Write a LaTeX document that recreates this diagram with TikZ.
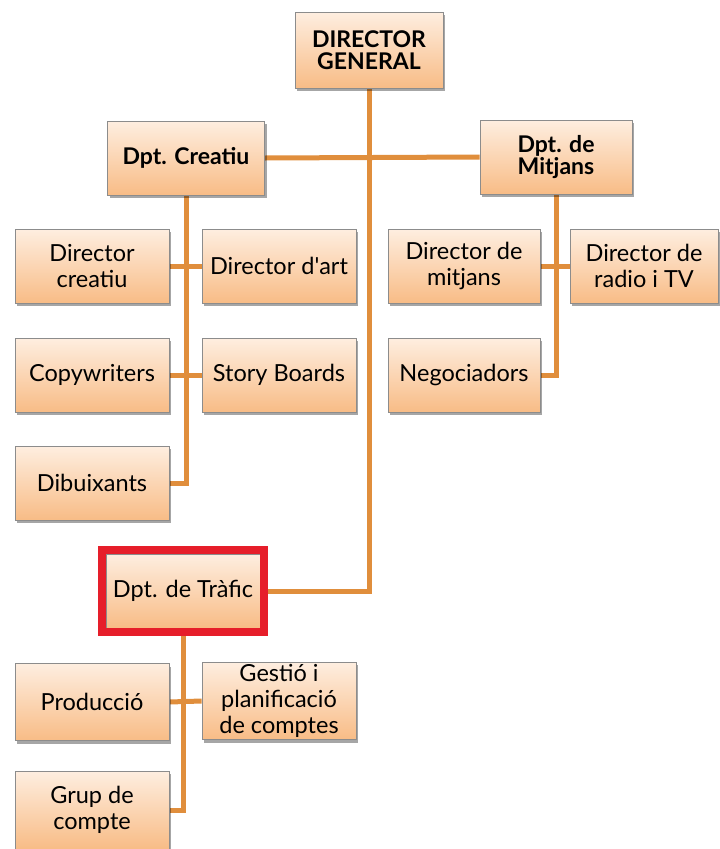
\documentclass[tikz,border=0pt]{standalone}
\usepackage{fontspec}
\setmainfont{Lato}
\usetikzlibrary{shadows,backgrounds,fit}
\definecolor{orgline}{HTML}{E08E3C}
\definecolor{boxtop}{HTML}{FEEEE0}
\definecolor{boxbot}{HTML}{F8BC86}
\definecolor{hlred}{HTML}{E61E2A}
\tikzset{
  orgbox/.style={draw=black!45, line width=0.8pt, top color=boxtop, bottom color=boxbot,
    minimum width=154pt, minimum height=74pt, inner sep=2pt, align=center,
    font=\fontsize{23.5}{26}\selectfont,
    drop shadow={shadow xshift=2pt, shadow yshift=-3pt, opacity=0.35, fill=black}},
  headbox/.style={orgbox, font=\fontsize{23}{22}\selectfont\bfseries},
  wire/.style={draw=orgline, line width=5pt},
  highlight/.style={draw=hlred, line width=8pt, inner sep=4pt}
}
\begin{document}
\begin{tikzpicture}[x=1pt,y=-1pt]
  \useasboundingbox (0,0) rectangle (720,849);
  \begin{scope}
    \clip (0,0) rectangle (720,849);
    % top level
    \node[headbox, minimum width=148pt, minimum height=76pt] (dg) at (369,50) {DIRECTOR\\GENERAL};
    \node[headbox, minimum width=157pt] (cr) at (186,158) {Dpt. Creatiu};
    \node[headbox, minimum width=152pt] (mj) at (556,157) {Dpt. de\\Mitjans};
    % creative department
    \node[orgbox] (dc) at (92,266) {Director\\creatiu};
    \node[orgbox] (da) at (279,266) {Director d\textquotesingle art};
    \node[orgbox] (cw) at (92,375) {Copywriters};
    \node[orgbox] (sb) at (279,375) {Story Boards};
    \node[orgbox] (dib) at (92,483) {Dibuixants};
    % media department
    \node[orgbox, minimum width=152pt] (dm) at (464,266) {Director de\\mitjans};
    \node[orgbox, minimum width=148pt] (drt) at (644,266) {Director de\\radio i TV};
    \node[orgbox, minimum width=152pt] (neg) at (464,375) {Negociadors};
    % traffic department
    \node[orgbox] (tr) at (183,591) {Dpt. de Tràfic};
    \node[orgbox, minimum height=77pt] (pr) at (92,702) {Producció};
    \node[orgbox, minimum height=77pt] (gp) at (279,701) {Gestió i\\planificació\\de comptes};
    \node[orgbox, minimum height=78pt] (gc) at (92,810) {Grup de\\compte};
    % connectors
    \begin{scope}[on background layer]
      \draw[wire] (dg.south) -- (dg.south |- tr.east) -- (tr.east);
      \draw[wire] (cr.east) -- (mj.west);
      \draw[wire] (cr.south) -- (cr.south |- dib.east) -- (dib.east);
      \draw[wire] (dc.east) -- (da.west);
      \draw[wire] (cw.east) -- (sb.west);
      \draw[wire] (mj.south) -- (mj.south |- neg.east) -- (neg.east);
      \draw[wire] (dm.east) -- (drt.west);
      \draw[wire] (tr.south) -- (tr.south |- gc.east) -- (gc.east);
      \draw[wire] (pr.east) -- (gp.west);
    \end{scope}
    % highlighted department
    \node[highlight, fit=(tr)] (trmark) {};
  \end{scope}
\end{tikzpicture}
\end{document}
